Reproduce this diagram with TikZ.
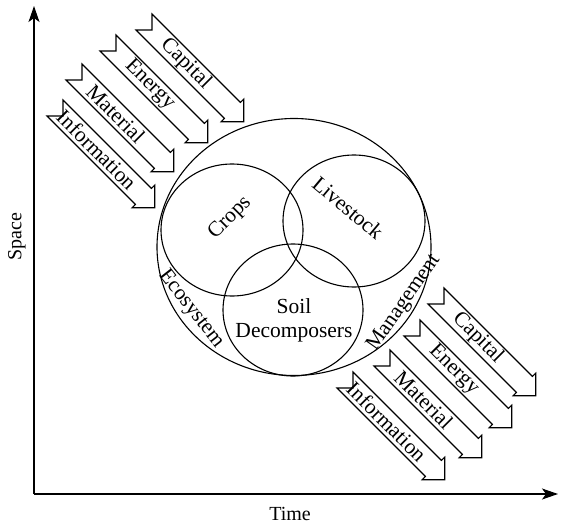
\documentclass[tikz,border=0pt]{standalone}
\usepackage{fontspec}
\setmainfont{Liberation Serif}
\usetikzlibrary{arrows.meta}
\tikzset{
  blk/.style={draw=black, line width=1.1pt, fill=white, line join=miter},
  lbl/.style={font=\fontsize{21.5}{24}\selectfont, inner sep=0pt, anchor=center},
  axlbl/.style={font=\fontsize{20}{22}\selectfont, inner sep=0pt},
  ring/.style={draw=black, line width=1.1pt},
  axis/.style={draw=black, line width=1.2pt, -{Stealth[length=16pt,width=11pt,inset=4pt]}}
}
\newcommand{\blockarrow}[3]{%
  \begin{scope}[shift={#1}, rotate=-45]
    \draw[blk] (0,11.3) -- (11.3,0) -- (0,-11.3) -- (125,-11.3) -- (125,-16) -- (141,0) -- (125,16) -- (125,11.3) -- cycle;
    \node[lbl, rotate=-45] (#2) at (59,0) {#3};
  \end{scope}}
\begin{document}
\begin{tikzpicture}[x=1pt, y=-1pt]
\useasboundingbox (0,0) rectangle (575,524);
% axes
\coordinate (O) at (34,494);
\coordinate (Ytop) at (34,6);
\coordinate (Xend) at (558,494);
\draw[axis] (O) -- (Ytop);
\draw[axis] (O) -- (Xend);
\node[axlbl] (time) at (290,514) {Time};
\node[axlbl, rotate=90] (space) at (17,237) {Space};
% circles
\draw[ring] (294,247) ellipse [x radius=137, y radius=128.5];
\draw[ring] (232,230) ellipse [x radius=71, y radius=66];
\draw[ring] (354,221) ellipse [x radius=71, y radius=66];
\draw[ring] (293,310) ellipse [x radius=70, y radius=66];
\node[lbl, rotate=45] (crops) at (230,218) {Crops};
\node[lbl, rotate=-40] (livestock) at (348,208) {Livestock};
\node[lbl, align=center] (soil) at (294,320) {Soil\\Decomposers};
\node[lbl, rotate=-52] (eco) at (191,309) {Ecosystem};
\node[lbl, rotate=55] (mgmt) at (404,303) {Management};
% block arrows top-left
\blockarrow{(144,22)}{capA}{Capital}
\blockarrow{(108,43)}{enA}{Energy}
\blockarrow{(74,72)}{matA}{Material}
\blockarrow{(55,108)}{infA}{Information}
% block arrows bottom-right
\blockarrow{(436,296)}{capB}{Capital}
\blockarrow{(412,328)}{enB}{Energy}
\blockarrow{(382,358)}{matB}{Material}
\blockarrow{(345,380)}{infB}{Information}
\end{tikzpicture}
\end{document}
